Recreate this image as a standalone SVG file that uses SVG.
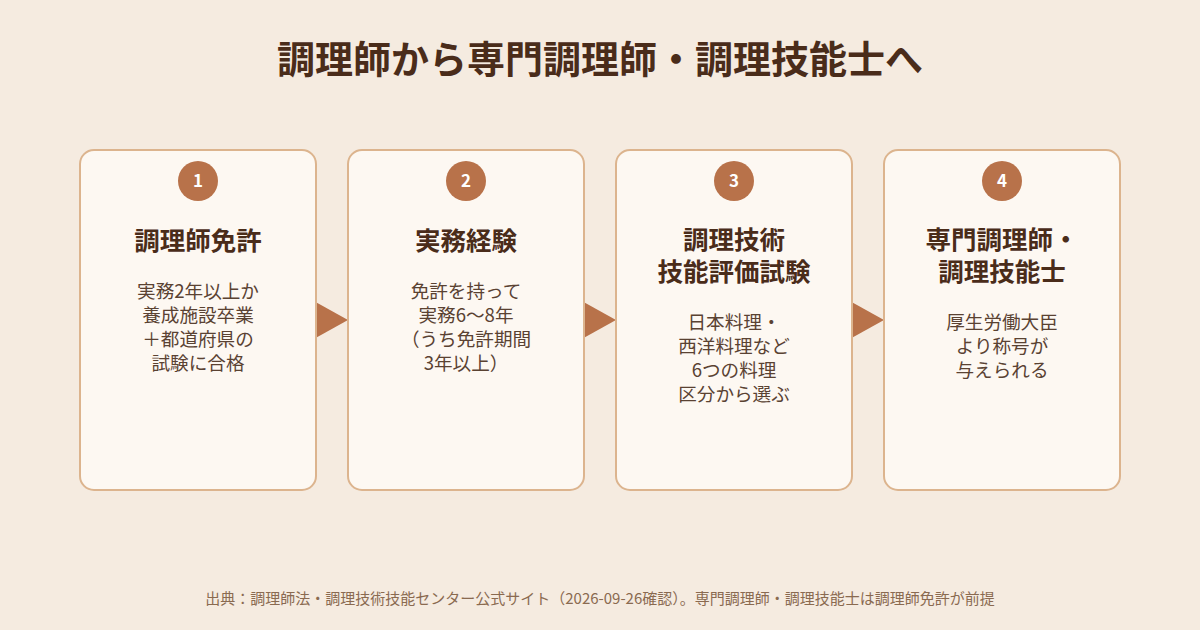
<svg xmlns="http://www.w3.org/2000/svg" width="1200" height="630" viewBox="0 0 1200 630">
<style>
.card{fill:#fdf8f2;stroke:#dcb48e;stroke-width:2}
.num{fill:#b8724a}
.numt{font-family:"Noto Sans CJK JP","Noto Sans",sans-serif;font-size:17px;font-weight:700;fill:#ffffff;text-anchor:middle}
.ttl{font-family:"Noto Sans CJK JP",sans-serif;font-size:25.5px;font-weight:700;fill:#4a2c1a;text-anchor:middle}
.body{font-family:"Noto Sans CJK JP",sans-serif;font-size:18.6px;fill:#5a4232;text-anchor:middle}
.arr{fill:#b8724a}
</style>
<rect width="1200" height="630" fill="#f5ebe0"/>
<text x="600" y="73" font-family="Noto Sans CJK JP, sans-serif" font-size="38" font-weight="700" fill="#4a2c1a" text-anchor="middle">調理師から専門調理師・調理技能士へ</text>
<g id="connectors">
<polygon class="arr" points="312,300 348,320 312,340"/>
<polygon class="arr" points="580,300 616,320 580,340"/>
<polygon class="arr" points="848,300 884,320 848,340"/>
</g>
<g id="node1">
<rect class="card" x="80" y="150" width="236" height="340" rx="14"/>
<circle class="num" cx="198" cy="181" r="20"/>
<text class="numt" x="198" y="187">1</text>
<text class="ttl" x="198" y="250">調理師免許</text>
<text class="body" x="198" y="298">実務2年以上か</text>
<text class="body" x="198" y="322">養成施設卒業</text>
<text class="body" x="198" y="346">＋都道府県の</text>
<text class="body" x="198" y="370">試験に合格</text>
</g>
<g id="node2">
<rect class="card" x="348" y="150" width="236" height="340" rx="14"/>
<circle class="num" cx="466" cy="181" r="20"/>
<text class="numt" x="466" y="187">2</text>
<text class="ttl" x="466" y="250">実務経験</text>
<text class="body" x="466" y="298">免許を持って</text>
<text class="body" x="466" y="322">実務6〜8年</text>
<text class="body" x="466" y="346">（うち免許期間</text>
<text class="body" x="466" y="370">3年以上）</text>
</g>
<g id="node3">
<rect class="card" x="616" y="150" width="236" height="340" rx="14"/>
<circle class="num" cx="734" cy="181" r="20"/>
<text class="numt" x="734" y="187">3</text>
<text class="ttl" x="734" y="249">調理技術</text>
<text class="ttl" x="734" y="281">技能評価試験</text>
<text class="body" x="734" y="329">日本料理・</text>
<text class="body" x="734" y="353">西洋料理など</text>
<text class="body" x="734" y="377">6つの料理</text>
<text class="body" x="734" y="401">区分から選ぶ</text>
</g>
<g id="node4">
<rect class="card" x="884" y="150" width="236" height="340" rx="14"/>
<circle class="num" cx="1002" cy="181" r="20"/>
<text class="numt" x="1002" y="187">4</text>
<text class="ttl" x="1002" y="249">専門調理師・</text>
<text class="ttl" x="1002" y="281">調理技能士</text>
<text class="body" x="1002" y="329">厚生労働大臣</text>
<text class="body" x="1002" y="353">より称号が</text>
<text class="body" x="1002" y="377">与えられる</text>
</g>
<text x="600" y="604" font-family="Noto Sans CJK JP, sans-serif" font-size="15" fill="#8a6a50" text-anchor="middle">出典：調理師法・調理技術技能センター公式サイト（2026-09-26確認）。専門調理師・調理技能士は調理師免許が前提</text>
</svg>
